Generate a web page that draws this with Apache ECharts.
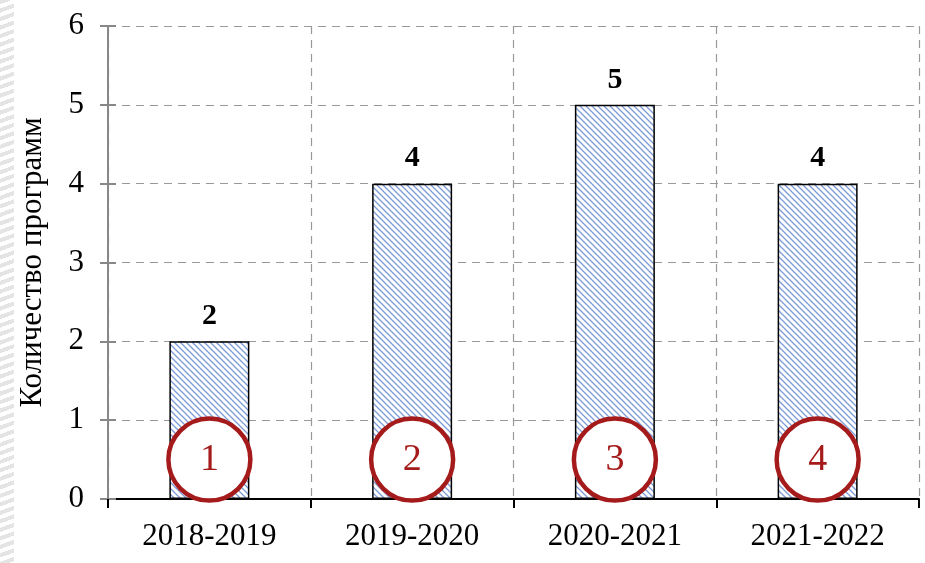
<!DOCTYPE html>
<html lang="ru">
<head>
    <meta charset="UTF-8">
    <script src="https://cdn.jsdelivr.net/npm/echarts@6.0.0/dist/echarts.min.js"></script>
    <title>Количество программ</title>
    <style>
        html, body { margin: 0; padding: 0; background: #fff; }
        #strip {
            position: absolute; left: 0; top: 0; width: 14px; height: 563px;
            background: repeating-linear-gradient(160deg, #e4e4e4 0 4px, #fff 4px 8px);
        }
        #main { width: 925px; height: 563px; }
    </style>
</head>
<body>
    <div id="strip"></div>
    <div id="main"></div>
    <script>
        // данные
        var years = ['2018-2019', '2019-2020', '2020-2021', '2021-2022'];
        var programs = [2, 4, 5, 4];
        var markerLabels = ['1', '2', '3', '4'];
        var markerLevel = [0.5, 0.5, 0.5, 0.5];

        // штриховка для столбцов
        var hatch = document.createElement('canvas');
        hatch.width = 6; hatch.height = 6;
        var ctx = hatch.getContext('2d');
        ctx.fillStyle = '#fff';
        ctx.fillRect(0, 0, 6, 6);
        ctx.strokeStyle = '#7b9ad6';
        ctx.lineWidth = 1.3;
        ctx.beginPath();
        ctx.moveTo(0, 0); ctx.lineTo(6, 6);
        ctx.moveTo(-3, 3); ctx.lineTo(3, 9);
        ctx.moveTo(3, -3); ctx.lineTo(9, 3);
        ctx.stroke();

        var chart = echarts.init(document.getElementById('main'));
        var serif = '"Liberation Serif", "DejaVu Serif", serif';
        var dash = { color: '#999', type: [8, 6], width: 1.2 };
        var option = {
            backgroundColor: 'transparent',
            animation: false,
            grid: { left: 108, right: 6, top: 26, bottom: 64 },
            xAxis: {
                type: 'category',
                data: years,
                boundaryGap: true,
                axisLine: { lineStyle: { color: '#000', width: 2 } },
                axisTick: { show: true, length: 9, lineStyle: { color: '#000', width: 2 } },
                axisLabel: { fontFamily: serif, fontSize: 31, color: '#000', margin: 22 },
                splitLine: { show: true, lineStyle: dash }
            },
            yAxis: [
                {
                    type: 'value',
                    min: 0, max: 6, interval: 1,
                    name: 'Количество программ',
                    nameLocation: 'middle',
                    nameGap: 60,
                    nameTextStyle: { fontFamily: serif, fontSize: 31, color: '#000' },
                    axisLine: { show: true, lineStyle: { color: '#888', width: 2 } },
                    axisTick: { show: true, length: 8, lineStyle: { color: '#888', width: 2 } },
                    axisLabel: { fontFamily: serif, fontSize: 31, color: '#000', margin: 24 },
                    splitLine: { show: true, lineStyle: dash }
                },
                {
                    // вторая ось только для засечек внутрь
                    type: 'value',
                    position: 'left',
                    min: 0, max: 6, interval: 1,
                    axisLine: { show: false },
                    axisTick: { show: true, inside: true, length: 8, lineStyle: { color: '#888', width: 2 } },
                    axisLabel: { show: false },
                    splitLine: { show: false }
                }
            ],
            series: [
                {
                    type: 'bar',
                    data: programs,
                    barWidth: 80,
                    itemStyle: {
                        color: { image: hatch, repeat: 'repeat' },
                        borderColor: '#000',
                        borderWidth: 1.5
                    },
                    label: {
                        show: true,
                        position: 'top',
                        distance: 10,
                        fontFamily: serif,
                        fontSize: 30,
                        fontWeight: 'bold',
                        color: '#000'
                    }
                },
                {
                    type: 'scatter',
                    data: markerLevel,
                    symbol: 'circle',
                    symbolSize: 82,
                    z: 5,
                    itemStyle: { color: '#fff', borderColor: '#a51b1b', borderWidth: 4.5, opacity: 1 },
                    label: {
                        show: true,
                        position: 'inside',
                        formatter: function (p) { return markerLabels[p.dataIndex]; },
                        fontFamily: serif,
                        fontSize: 38,
                        color: '#a51b1b'
                    }
                }
            ]
        };
        chart.setOption(option);
    </script>
</body>
</html>
